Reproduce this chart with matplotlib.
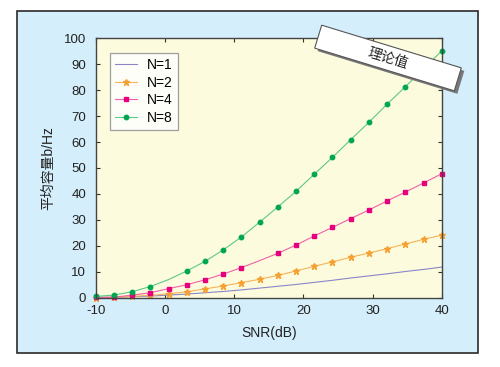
import numpy as np
import matplotlib
matplotlib.use('Agg')
import matplotlib.pyplot as plt
from matplotlib.patches import Rectangle
from matplotlib.transforms import IdentityTransform

plt.rcParams['font.family'] = ['Liberation Sans', 'Noto Sans CJK SC', 'DejaVu Sans']
plt.rcParams['axes.unicode_minus'] = False

# 信噪比 (dB)，20 个采样点
snr = [-10.0, -7.37, -4.74, -2.11, 0.53, 3.16, 5.79, 8.42, 11.05, 13.68,
       16.32, 18.95, 21.58, 24.21, 26.84, 29.47, 32.11, 34.74, 37.37, 40.0]
cap_n1 = [0.1, 0.2, 0.4, 0.6, 1.0, 1.4, 1.9, 2.4, 3.0, 3.7,
          4.4, 5.1, 5.9, 6.7, 7.6, 8.4, 9.2, 10.1, 10.9, 11.8]
cap_n2 = [0.05, 0.1, 0.5, 0.9, 1.5, 2.3, 3.4, 4.5, 5.8, 7.1,
          8.6, 10.3, 12.1, 13.8, 15.6, 17.2, 18.9, 20.7, 22.5, 24.1]
cap_n4 = [0.1, 0.2, 1.0, 1.9, 3.5, 5.0, 6.9, 9.1, 11.6, 14.3,
          17.1, 20.3, 23.8, 27.1, 30.5, 33.8, 37.3, 40.7, 44.2, 47.8]
cap_n8 = [0.5, 1.0, 2.3, 4.3, 7.0, 10.3, 14.0, 18.4, 23.4, 29.1,
          35.0, 41.0, 47.6, 54.1, 60.9, 67.6, 74.6, 81.3, 88.3, 95.1]

fig = plt.figure(figsize=(5, 3.67), dpi=100)

# 外框背景
fig.patches.append(Rectangle((17 / 500, 1 - 353 / 367), 461 / 500, 342 / 367,
                             transform=fig.transFigure, fc='#D4EEFB', ec='#2a2a2a',
                             lw=1.2, zorder=-10))

ax = fig.add_axes([95.7 / 500, 1 - 297.7 / 367, 346 / 500, 259.4 / 367])
ax.set_facecolor('#FDFBDD')

ax.plot(snr, cap_n1, color='#8A86C8', lw=0.8, label='N=1')
ax.plot(snr, cap_n2, color='#F7B35A', lw=0.8, marker='*', ms=4.5,
        mfc='#F5A030', mec='#F5A030', label='N=2', clip_on=False)
ax.plot(snr, cap_n4, color='#F060A8', lw=0.8, marker='s', ms=3.2,
        mfc='#E6007E', mec='#E6007E', label='N=4', clip_on=False,
        markevery=[i for i in range(20) if i != 9])
ax.plot(snr, cap_n8, color='#5CC88A', lw=0.8, marker='o', ms=3.2,
        mfc='#00A651', mec='#00A651', label='N=8', clip_on=False,
        markevery=[i for i in range(20) if i != 4])

ax.set_xlim(-10, 40)
ax.set_ylim(0, 100)
ax.set_xticks([-10, 0, 10, 20, 30, 40])
ax.set_yticks(range(0, 101, 10))
ax.tick_params(direction='in', top=True, right=True, length=3, width=0.8,
               labelsize=9.5, colors='#333333', labelcolor='#222222')
ax.tick_params(axis='y', pad=7)
ax.tick_params(axis='x', pad=5)
for s in ax.spines.values():
    s.set_color('#444444')
    s.set_linewidth(1.0)

ax.set_xlabel('SNR(dB)', fontsize=10, color='#222222', labelpad=7)
ax.set_ylabel('平均容量b/Hz', fontsize=10, color='#222222', labelpad=6)

leg = ax.legend(loc='upper left', bbox_to_anchor=(0.04, 0.945), fontsize=10,
                frameon=True, fancybox=False, handlelength=1.6, borderpad=0.4,
                labelspacing=0.25, handletextpad=0.7, borderaxespad=0)
leg.get_frame().set_edgecolor('#888888')
leg.get_frame().set_linewidth(0.9)

# "理论值" 标签
cx, cy = 388, 367 - 58
w, h = 146, 24
fig.patches.append(Rectangle((cx - w / 2 + 3, cy - h / 2 - 3), w, h, angle=-17,
                             rotation_point=(cx + 3, cy - 3), transform=IdentityTransform(),
                             fc='#777777', ec='none', zorder=5))
fig.patches.append(Rectangle((cx - w / 2, cy - h / 2), w, h, angle=-17,
                             rotation_point=(cx, cy), transform=IdentityTransform(),
                             fc='white', ec='#555555', lw=0.8, zorder=6))
fig.text(cx / 500, cy / 367, '理论值', rotation=-17, ha='center', va='center',
         fontsize=10, color='#222222', zorder=7, rotation_mode='anchor')

fig.savefig('out.png', dpi=100)
